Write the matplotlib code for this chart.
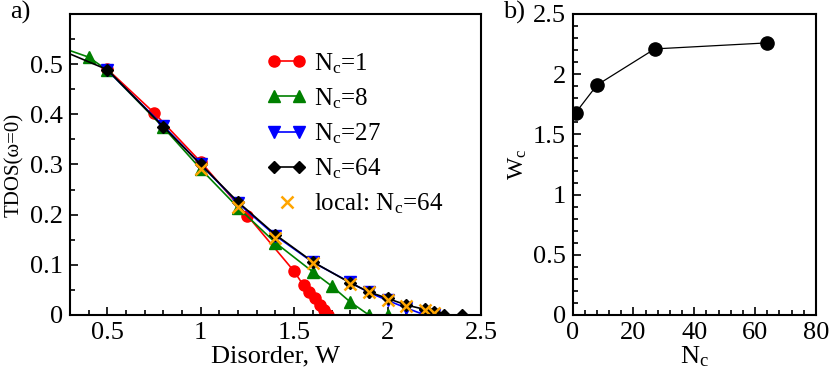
import matplotlib
matplotlib.use("Agg")
import matplotlib.pyplot as plt
from matplotlib.ticker import MultipleLocator
from matplotlib.legend_handler import HandlerLine2D

plt.rcParams['font.family'] = ['Liberation Serif', 'DejaVu Serif']
plt.rcParams['mathtext.fontset'] = 'custom'
plt.rcParams['mathtext.rm'] = 'Liberation Serif'
plt.rcParams['mathtext.it'] = 'Liberation Serif:italic'
plt.rcParams['font.size'] = 19

# panel a) TDOS vs disorder
w_nc1 = [0.5, 0.75, 1.0, 1.25, 1.5, 1.55, 1.58, 1.61, 1.64, 1.66, 1.68]
t_nc1 = [0.490, 0.403, 0.305, 0.198, 0.087, 0.059, 0.046, 0.033, 0.020, 0.010, 0.0]

w_nc8 = [0.2, 0.4, 0.5, 0.8, 1.0, 1.2, 1.4, 1.6, 1.7, 1.8, 1.9, 2.0]
t_nc8 = [0.540, 0.514, 0.488, 0.374, 0.291, 0.214, 0.144, 0.086, 0.058, 0.026, 0.0, 0.0]

w_nc27 = [0.5, 0.8, 1.0, 1.2, 1.4, 1.6, 1.8, 1.9, 2.0, 2.1, 2.2, 2.25]
t_nc27 = [0.488, 0.377, 0.300, 0.223, 0.158, 0.105, 0.065, 0.045, 0.029, 0.014, 0.0, 0.0]

w_nc64 = [0.2, 0.5, 0.8, 1.0, 1.2, 1.4, 1.6, 1.8, 1.9, 2.0, 2.1, 2.2, 2.25, 2.3, 2.4]
t_nc64 = [0.536, 0.489, 0.375, 0.300, 0.225, 0.160, 0.106, 0.064, 0.046, 0.033, 0.020, 0.011, 0.006, 0.0, 0.0]

w_local = [1.0, 1.2, 1.4, 1.6, 1.8, 1.9, 2.0, 2.1, 2.2, 2.25]
t_local = [0.291, 0.216, 0.154, 0.103, 0.062, 0.045, 0.030, 0.018, 0.010, 0.003]

# panel b) critical disorder vs cluster size
nc = [1, 8, 27, 64]
wc = [1.68, 1.91, 2.21, 2.26]

fig = plt.figure(figsize=(8.3, 3.78), dpi=100)
ax1 = fig.add_axes([0.0843, 0.1667, 0.4952, 0.7963])
ax2 = fig.add_axes([0.690, 0.1667, 0.293, 0.7963])

ax1.plot(w_nc1, t_nc1, '-o', color='red', ms=8, lw=1.2, label=r'N$_\mathrm{c}$=1')
ax1.plot(w_nc8, t_nc8, '-^', color='green', ms=8, lw=1.2, label=r'N$_\mathrm{c}$=8')
ax1.plot(w_nc27, t_nc27, '-v', color='blue', ms=8, lw=1.2, label=r'N$_\mathrm{c}$=27')
ax1.plot(w_nc64, t_nc64, '-D', color='black', ms=6.5, lw=1.2, label=r'N$_\mathrm{c}$=64')
loc, = ax1.plot(w_local, t_local, 'x', color='orange', ms=8, mew=1.8,
                label=r'local: N$_\mathrm{c}$=64')

ax1.set_xlim(0.3, 2.5)
ax1.set_ylim(0, 0.6)
ax1.set_xticks([0.5, 1, 1.5, 2, 2.5])
ax1.set_xticklabels(['0.5', '1', '1.5', '2', '2.5'])
ax1.set_yticks([0, 0.1, 0.2, 0.3, 0.4, 0.5])
ax1.set_yticklabels(['0', '0.1', '0.2', '0.3', '0.4', '0.5'])
ax1.xaxis.set_minor_locator(MultipleLocator(0.1))
ax1.yaxis.set_minor_locator(MultipleLocator(0.05))
ax1.set_xlabel('Disorder, W', labelpad=1)
ax1.set_ylabel('TDOS(ω=0)', fontsize=15, labelpad=4)
ax1.legend(loc='upper left', bbox_to_anchor=(0.455, 0.91), frameon=False,
           numpoints=2, handlelength=1.6, handletextpad=0.3, labelspacing=0.42,
           borderaxespad=0, fontsize=18,
           handler_map={loc: HandlerLine2D(numpoints=1)})

ax2.plot(nc, wc, '-o', color='black', ms=9.5, lw=0.9)
ax2.set_xlim(0, 80)
ax2.set_ylim(0, 2.5)
ax2.set_xticks([0, 20, 40, 60, 80])
ax2.set_yticks([0, 0.5, 1, 1.5, 2, 2.5])
ax2.set_yticklabels(['0', '0.5', '1', '1.5', '2', '2.5'])
ax2.xaxis.set_minor_locator(MultipleLocator(4))
ax2.yaxis.set_minor_locator(MultipleLocator(0.1))
ax2.set_xlabel(r'N$_\mathrm{c}$', labelpad=0)
ax2.set_ylabel(r'W$_\mathrm{c}$', fontsize=17, labelpad=3)

for ax in (ax1, ax2):
    for s in ax.spines.values():
        s.set_linewidth(1.5)
    ax.tick_params(which='both', direction='in', top=False, right=False, width=1.2)
    ax.tick_params(which='major', length=6, pad=5)
    ax.tick_params(which='minor', length=3.5)

fig.text(0.012, 0.968, 'a)', fontsize=19, va='center')
fig.text(0.606, 0.968, 'b)', fontsize=19, va='center')

fig.savefig('out.png', dpi=100)
